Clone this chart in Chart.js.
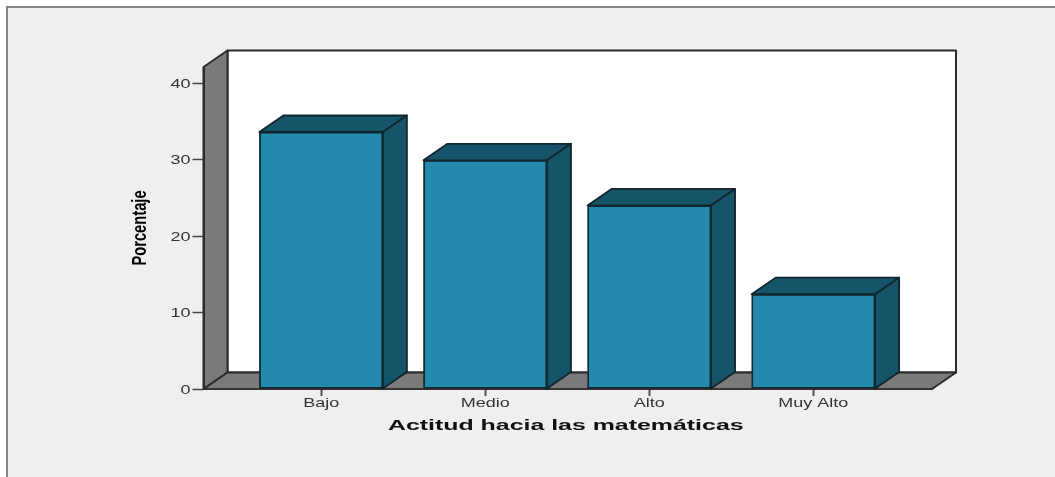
<!DOCTYPE html>
<html lang="es">
<head>
<meta charset="utf-8">
<title>Actitud hacia las matemáticas</title>
<script src="https://cdn.jsdelivr.net/npm/chart.js@4/dist/chart.umd.min.js"></script>
<style>
    html, body { margin: 0; padding: 0; background: #fff; overflow: hidden; }
    #chart-box { position: absolute; left: 6px; top: 6px; width: 1049px; height: 471px;
        box-sizing: border-box; background: #efefef; border-top: 2px solid #858585; border-left: 2px solid #858585; }
    #reportChart { position: absolute; left: 0; top: 0; }
</style>
</head>
<body>
<div id="chart-box"></div>
<canvas id="reportChart" width="1055" height="477"></canvas>
<script>
const categories = ['Bajo', 'Medio', 'Alto', 'Muy Alto'];
const percentages = [33.6, 29.9, 24.0, 12.4];
const yTicks = [0, 10, 20, 30, 40];
const xTitle = 'Actitud hacia las matemáticas';
const yTitle = 'Porcentaje';

const depthX = 24;
const depthY = 16.5;
const edgeColor = '#10252d';
const wallColor = '#7a7a7a';
const sideColor = '#16546a';

const canvas = document.getElementById('reportChart');
const ctx = canvas.getContext('2d');

// The axis fonts are wide and the y title is condensed, so text is scaled along its baseline
function textStretch(text) {
    if (text === xTitle) return 1.66;
    if (text === yTitle) return 0.7;
    return 1.5;
}

const plainFillText = ctx.fillText;
ctx.fillText = function(text, x, y) {
    // y axis numbers sit a little below their tick marks
    const drop = yTicks.includes(Number(text)) ? 1.5 : 0;
    const shift = text === xTitle ? -2 : 0;
    this.save();
    this.translate(x + shift, y + drop);
    this.scale(textStretch(text), 1);
    plainFillText.call(this, text, 0, 0);
    this.restore();
};

function polygon(c, points, fill) {
    c.beginPath();
    points.forEach((p, i) => i ? c.lineTo(p[0], p[1]) : c.moveTo(p[0], p[1]));
    c.closePath();
    c.fillStyle = fill;
    c.fill();
    c.stroke();
}

const boxWalls = {
    id: 'boxWalls',
    beforeDraw(chart) {
        const { left, right, top, bottom } = chart.chartArea;
        const c = chart.ctx;
        c.save();
        c.strokeStyle = '#2b2b2b';
        c.lineWidth = 2;
        c.lineJoin = 'round';
        polygon(c, [[left + depthX, top - depthY], [right + depthX, top - depthY],
            [right + depthX, bottom - depthY], [left + depthX, bottom - depthY]], '#fff');
        polygon(c, [[left, top], [left + depthX, top - depthY],
            [left + depthX, bottom - depthY], [left, bottom]], wallColor);
        polygon(c, [[left, bottom], [left + depthX, bottom - depthY],
            [right + depthX, bottom - depthY], [right, bottom]], wallColor);
        c.restore();
    }
};

const barDepth = {
    id: 'barDepth',
    beforeDatasetsDraw(chart) {
        const c = chart.ctx;
        c.save();
        c.strokeStyle = edgeColor;
        c.lineWidth = 1.8;
        c.lineJoin = 'round';
        chart.getDatasetMeta(0).data.forEach(bar => {
            const { x, y, base, width } = bar.getProps(['x', 'y', 'base', 'width'], true);
            const l = x - width / 2;
            const r = x + width / 2;
            polygon(c, [[l, y], [l + depthX, y - depthY], [r + depthX, y - depthY], [r, y]], sideColor);
            polygon(c, [[r, y], [r + depthX, y - depthY], [r + depthX, base - depthY], [r, base]], sideColor);
        });
        c.restore();
    }
};

new Chart(ctx, {
    type: 'bar',
    data: {
        datasets: [{
            label: yTitle,
            data: categories.map((name, i) => ({ x: i, y: percentages[i] })),
            backgroundColor: '#248aad',
            borderColor: edgeColor,
            borderWidth: 1.8,
            borderSkipped: false,
            barThickness: 123.5,
            clip: false
        }]
    },
    plugins: [boxWalls, barDepth],
    options: {
        responsive: false,
        animation: false,
        events: [],
        layout: { autoPadding: false, padding: { left: 0, right: 123, top: 67, bottom: 0 } },
        plugins: { legend: { display: false }, tooltip: { enabled: false } },
        scales: {
            x: {
                type: 'linear',
                offset: false,
                min: -0.717,
                max: 3.723,
                afterFit: scale => { scale.height = 88; },
                afterBuildTicks: scale => { scale.ticks = categories.map((name, i) => ({ value: i })); },
                grid: { offset: false, drawOnChartArea: false, tickLength: 7, tickWidth: 2, tickColor: '#555' },
                border: { color: '#333', width: 2 },
                ticks: {
                    autoSkip: false,
                    maxRotation: 0,
                    padding: 0,
                    color: '#333',
                    font: { family: '"Liberation Sans"', size: 12 },
                    callback: value => categories[value]
                },
                title: {
                    display: true,
                    text: xTitle,
                    color: '#111',
                    font: { family: '"Liberation Sans"', size: 15, weight: 'bold' },
                    padding: { top: 0, bottom: 42 }
                }
            },
            y: {
                min: 0,
                max: 42.1,
                afterFit: scale => { scale.width = 203.5; },
                afterBuildTicks: scale => { scale.ticks = yTicks.map(value => ({ value })); },
                grid: { drawOnChartArea: false, tickLength: 11, tickWidth: 1.5, tickColor: '#444' },
                border: { color: '#2b2b2b', width: 2 },
                ticks: {
                    padding: 2,
                    color: '#333',
                    font: { family: '"Liberation Sans"', size: 12 }
                },
                title: {
                    display: true,
                    text: yTitle,
                    color: '#000',
                    font: { family: '"Liberation Sans"', size: 21, weight: 'bold' },
                    padding: { top: 128, bottom: 0 }
                }
            }
        }
    }
});
</script>
</body>
</html>
